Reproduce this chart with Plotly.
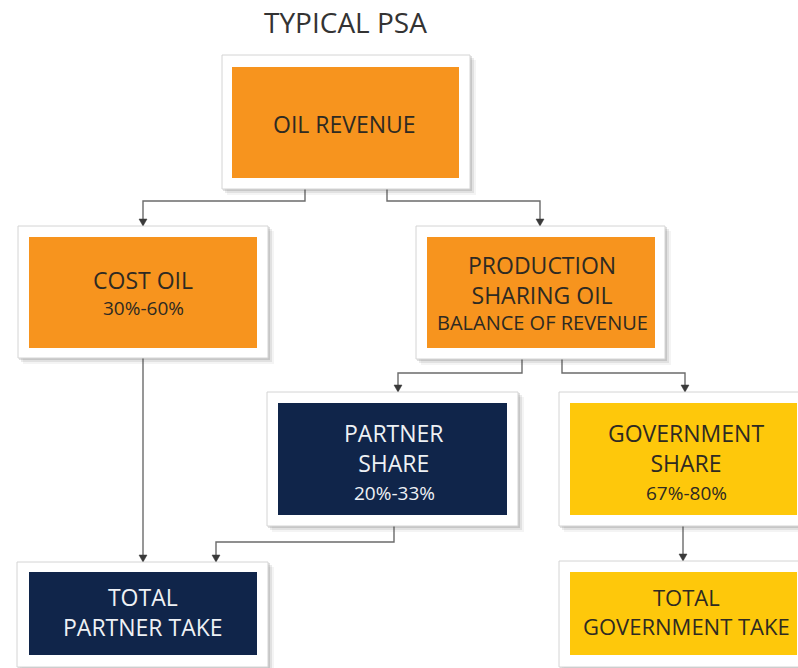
import plotly.graph_objects as go

# ---- content ----
title_text = "TYPICAL PSA"
node_ids = ["rev", "cost", "psh", "partner", "gov", "tpartner", "tgov"]
node_main = {
    "rev": ["OIL REVENUE"],
    "cost": ["COST OIL"],
    "psh": ["PRODUCTION", "SHARING OIL"],
    "partner": ["PARTNER", "SHARE"],
    "gov": ["GOVERNMENT", "SHARE"],
    "tpartner": ["TOTAL", "PARTNER TAKE"],
    "tgov": ["TOTAL", "GOVERNMENT TAKE"],
}
node_sub = {
    "rev": None,
    "cost": "30%-60%",
    "psh": "BALANCE OF REVENUE",
    "partner": "20%-33%",
    "gov": "67%-80%",
    "tpartner": None,
    "tgov": None,
}
edges = [("rev", "cost"), ("rev", "psh"), ("psh", "partner"), ("psh", "gov"),
         ("partner", "tpartner"), ("cost", "tpartner"), ("gov", "tgov")]

# ---- layout geometry (pixels, y downward) ----
outer = {
    "rev": (222, 55, 470, 189),
    "cost": (18, 226, 268, 358),
    "psh": (416, 226, 665, 359),
    "partner": (267, 392, 518, 526),
    "gov": (559, 392, 812, 526),
    "tpartner": (17, 562, 268, 667),
    "tgov": (559, 561, 812, 667),
}
inner = {
    "rev": (232, 67, 459, 178),
    "cost": (29, 237, 257, 348),
    "psh": (427, 237, 655, 348),
    "partner": (278, 403, 507, 515),
    "gov": (570, 403, 797, 515),
    "tpartner": (29, 572, 257, 655),
    "tgov": (570, 572, 797, 655),
}
fill = {"rev": "#F7941E", "cost": "#F7941E", "psh": "#F7941E",
        "partner": "#10254A", "tpartner": "#10254A",
        "gov": "#FEC80B", "tgov": "#FEC80B"}
txtcol = {"rev": "#2e2a22", "cost": "#2e2a22", "psh": "#2e2a22",
          "partner": "#eef1f5", "tpartner": "#eef1f5",
          "gov": "#2e2a22", "tgov": "#2e2a22"}
main_y = {"rev": 124, "cost": 280, "psh": 280, "partner": 448,
          "gov": 448, "tpartner": 612, "tgov": 611}
sub_y = {"cost": 308, "psh": 322, "partner": 493, "gov": 493}
main_size = {"rev": 23, "cost": 23, "psh": 23, "partner": 23, "gov": 23,
             "tpartner": 23, "tgov": 22}
sub_size = {"cost": 19, "psh": 20, "partner": 19, "gov": 19}
text_cx = {"rev": 344, "cost": 143, "psh": 542, "partner": 394,
           "gov": 686, "tpartner": 143, "tgov": 686}
paths = {
    ("rev", "cost"): [(305, 189), (305, 201), (143, 201), (143, 226)],
    ("rev", "psh"): [(387, 189), (387, 201), (540, 201), (540, 226)],
    ("psh", "partner"): [(522, 359), (522, 373), (398, 373), (398, 392)],
    ("psh", "gov"): [(562, 359), (562, 373), (685, 373), (685, 392)],
    ("partner", "tpartner"): [(394, 526), (394, 542), (216, 542), (216, 562)],
    ("cost", "tpartner"): [(143, 358), (143, 562)],
    ("gov", "tgov"): [(683, 526), (683, 561)],
}

W, H = 798, 668
shapes = []
annotations = []

# connectors
for e in edges:
    pts = paths[e]
    d = "M " + " L ".join(f"{x},{y}" for x, y in pts)
    shapes.append(dict(type="path", path=d, xref="x", yref="y",
                       line=dict(color="#6b6b6b", width=1.4), layer="below"))
    tx, ty = pts[-1]
    shapes.append(dict(type="path",
                       path=f"M {tx-4},{ty-7} L {tx+4},{ty-7} L {tx},{ty} Z",
                       xref="x", yref="y", fillcolor="#3a3a3a",
                       line=dict(color="#3a3a3a", width=0.5)))

# boxes
for n in node_ids:
    x0, y0, x1, y1 = outer[n]
    for k, op in [(6, 0.06), (4, 0.10), (2, 0.16)]:
        shapes.append(dict(type="rect", xref="x", yref="y",
                           x0=x0 + k - 1, y0=y0 + k - 1, x1=x1 + k, y1=y1 + k,
                           fillcolor=f"rgba(60,60,60,{op})", line=dict(width=0)))
    shapes.append(dict(type="rect", xref="x", yref="y", x0=x0, y0=y0, x1=x1, y1=y1,
                       fillcolor="white", line=dict(color="#d4d4d4", width=1)))
    ix0, iy0, ix1, iy1 = inner[n]
    shapes.append(dict(type="rect", xref="x", yref="y", x0=ix0, y0=iy0, x1=ix1, y1=iy1,
                       fillcolor=fill[n], line=dict(width=0)))
    annotations.append(dict(x=text_cx[n], y=main_y[n], xref="x", yref="y",
                            text="<br>".join(node_main[n]),
                            showarrow=False, xanchor="center", yanchor="middle",
                            font=dict(family="Open Sans", size=main_size[n], color=txtcol[n])))
    if node_sub[n]:
        annotations.append(dict(x=text_cx[n], y=sub_y[n], xref="x", yref="y",
                                text=node_sub[n],
                                showarrow=False, xanchor="center", yanchor="middle",
                                font=dict(family="Open Sans", size=sub_size[n], color=txtcol[n])))

annotations.append(dict(x=345, y=22, xref="x", yref="y", text=title_text,
                        showarrow=False, xanchor="center", yanchor="middle",
                        font=dict(family="Open Sans", size=28, color="#333333")))

fig = go.Figure()
fig.update_layout(
    width=W, height=H, margin=dict(l=0, r=0, t=0, b=0),
    paper_bgcolor="white", plot_bgcolor="white",
    xaxis=dict(range=[0, W], visible=False, fixedrange=True),
    yaxis=dict(range=[H, 0], visible=False, fixedrange=True),
    shapes=shapes, annotations=annotations, showlegend=False,
)
fig.write_html("out.html", config={"displayModeBar": False},
               post_script="document.body.style.margin='0px';")
